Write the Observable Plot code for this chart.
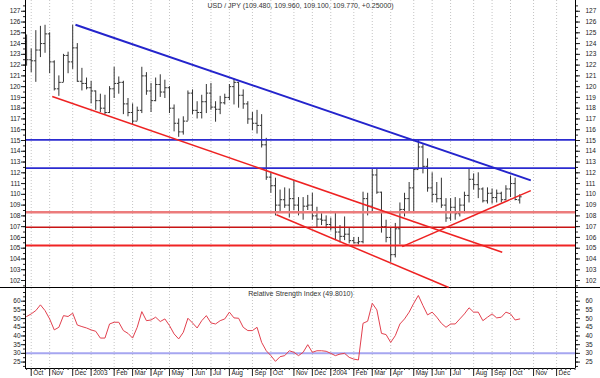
<!DOCTYPE html>
<html><head><meta charset="utf-8">
<script src="https://cdn.jsdelivr.net/npm/d3@7"></script>
<script src="https://cdn.jsdelivr.net/npm/@observablehq/plot@0.6"></script>
<style>
html,body{margin:0;padding:0;background:#fff;}
#chart{width:600px;height:378px;overflow:hidden;background:#fff;font-family:"Liberation Sans",Arial,sans-serif;}
#chart svg{display:block;}
#rsi{border-top:1px solid #000;}
</style></head>
<body><div id="chart"><div id="price"></div><div id="rsi"></div></div>
<script>
// ---------- DATA (weekly USD/JPY bars, index 0 = week of 27 Sep 2002) ----------
const open = [
124.2,122.5,122.4,123.4,124.0,124.9,122.3,119.8,120.4,122.9,
122.3,123.6,120.5,120.3,119.9,119.6,118.7,118.0,117.6,119.8,
120.3,120.4,118.4,117.6,116.8,117.8,121.0,119.6,118.7,120.2,
119.5,119.9,118.0,116.6,115.8,116.8,119.4,117.8,117.6,118.6,
119.4,118.1,117.9,118.5,119.0,120.0,120.4,119.2,118.4,117.0,
116.6,116.4,114.6,111.6,110.8,109.0,109.5,109.0,109.6,109.0,
108.3,108.9,109.0,108.0,107.7,107.6,107.2,106.9,106.5,106.1,
106.3,105.7,105.5,105.6,109.6,108.9,111.8,110.2,107.0,106.0,
104.4,106.8,108.6,109.6,110.6,112.3,114.4,112.6,110.6,110.0,
109.6,109.0,107.8,108.8,108.2,109.0,109.9,111.4,110.9,110.5,
109.4,110.1,109.7,110.1,109.5,110.5,111.0,109.48];
const high = [
124.8,123.5,125.2,125.6,125.7,125.0,122.4,121.0,123.0,123.2,
125.7,124.0,121.7,120.8,120.5,119.6,119.3,119.2,120.0,121.8,
120.9,120.5,118.9,118.4,118.1,121.8,121.3,120.3,120.8,121.1,
120.6,120.0,118.3,117.0,117.2,119.6,119.7,118.6,119.2,120.2,
120.3,118.6,119.1,119.3,120.2,120.7,120.4,119.7,118.6,117.6,
117.8,117.4,115.2,112.0,111.5,110.4,110.6,110.5,111.3,109.7,
109.7,109.9,110.1,108.8,108.2,108.0,107.8,108.3,107.1,107.9,
106.9,106.0,106.0,110.2,110.1,112.4,112.4,110.2,107.6,106.9,
107.3,109.2,110.1,111.1,112.4,115.0,114.6,113.3,112.0,111.1,
111.5,109.6,109.6,109.7,109.6,110.2,112.4,111.9,112.0,110.6,
110.6,110.5,110.4,110.2,110.8,111.7,111.5,109.96];
const low = [
121.9,121.3,120.4,122.7,123.1,121.2,119.6,119.1,120.4,121.2,
121.6,120.4,119.6,119.7,118.4,117.8,117.6,117.4,117.5,118.9,
119.3,117.4,117.2,116.4,116.8,117.5,119.2,117.6,118.6,119.0,
118.9,117.5,115.8,115.3,115.5,116.8,117.4,117.0,117.0,117.5,
117.8,116.7,117.4,118.3,118.7,118.3,118.0,117.9,116.5,115.9,
115.6,114.3,111.3,110.1,108.0,108.3,108.7,107.8,108.5,108.0,
107.6,108.5,107.6,106.9,107.1,106.8,106.6,105.7,105.5,105.7,
105.4,105.4,105.3,105.4,108.0,108.2,110.0,106.4,105.5,103.7,
104.1,105.3,107.9,108.3,108.3,112.3,111.9,110.2,109.2,109.2,
108.7,107.4,107.5,107.6,107.9,108.2,109.2,110.4,109.6,109.2,
109.1,109.1,109.2,109.2,109.4,109.7,109.4,109.10];
const close = [
122.5,122.4,123.4,124.0,124.9,122.3,119.8,120.4,122.9,122.3,
123.6,120.5,120.3,119.9,119.6,118.7,118.0,117.6,119.8,120.3,
120.4,118.4,117.6,116.8,117.8,121.0,119.6,118.7,120.2,119.5,
119.9,118.0,116.6,115.8,116.8,119.4,117.8,117.6,118.6,119.4,
118.1,117.9,118.5,119.0,120.0,120.4,119.2,118.4,117.0,116.6,
116.4,114.6,111.6,110.8,109.0,109.5,109.0,109.6,109.0,108.3,
108.9,109.0,108.0,107.7,107.6,107.2,106.9,106.5,106.1,106.3,
105.7,105.5,105.6,109.6,108.9,111.8,110.2,107.0,106.0,104.4,
106.8,108.6,109.6,110.6,112.3,114.4,112.6,110.6,110.0,109.6,
109.0,107.8,108.8,108.2,109.0,109.9,111.4,110.9,110.5,109.4,
110.1,109.7,110.1,109.5,110.5,111.0,109.52,109.77];
const rsi = [
51.2,52.7,54.6,57.9,54.6,49.8,43.5,45.0,51.7,51.2,
53.1,46.3,45.4,44.6,43.5,42.7,38.8,38.8,46.9,47.9,
47.9,43.1,41.5,38.8,45.0,54.0,48.8,49.2,50.8,48.3,
49.8,46.0,41.2,38.3,42.1,50.2,47.5,44.6,48.8,51.7,
47.5,46.9,48.8,49.8,53.7,50.4,50.2,45.0,43.1,43.1,
45.0,36.3,31.5,28.7,25.4,28.1,28.7,31.5,30.6,28.7,
30.6,35.0,30.6,31.5,31.5,31.2,30.0,28.7,29.6,30.0,
27.7,26.7,26.2,47.3,48.5,58.8,55.0,41.5,40.8,36.3,
40.2,46.9,49.8,53.7,58.8,63.3,57.5,52.1,53.7,50.8,
47.3,45.0,46.9,46.9,49.8,52.7,56.2,53.7,53.7,48.8,
50.8,52.7,50.4,50.8,53.7,52.7,49.2,49.801];
// first weekly bar of each month and its label
const monthBars   = [1,5,10,14,19,23,27,31,36,40,44,49,53,58,62,66,71,75,79,84,88,92,97,101,105,110,115];
const monthLabels = ["Oct","Nov","Dec","2003","Feb","Mar","Apr","May","Jun","Jul","Aug","Sep","Oct","Nov","Dec","2004","Feb","Mar","Apr","May","Jun","Jul","Aug","Sep","Oct","Nov","Dec"];
// horizontal support / resistance levels
const levels = [115.05, 112.43, 108.34, 106.95, 105.25];
// trend lines: [bar index, price] start and end
const trendStart = [[10.6,125.75],[5.56,119.08],[54.2,108.1],[81.5,105.15]];
const trendEnd   = [[109.4,111.3],[103.2,104.63],[91.6,101.35],[109.4,110.35]];
const priceTicks = d3.range(102, 128);
const rsiTicks = [25,30,35,40,45,50,55,60];
const rsiLevel = 30;

// ---------- STYLE ----------
const FONT = '"Liberation Sans", Arial, sans-serif';
const BAR = "#333";
const GRID = "#c4c4c4";
const LEVEL_STYLE = [
  {stroke:"#2b2bd0", w:1.8},{stroke:"#2b2bd0", w:1.8},
  {stroke:"#ec7c7c", w:2.6},{stroke:"#c81414", w:1.5},{stroke:"#f02424", w:2}];
const TREND_STYLE = [
  {stroke:"#2424cc", w:2},{stroke:"#ee2222", w:1.5},{stroke:"#ee2222", w:1.5},{stroke:"#ee2222", w:1.5}];
const X_DOMAIN = [-0.24, 119.1];

const n = close.length;
const bars = d3.range(n).map(i => ({i, o: open[i], h: high[i], l: low[i], c: close[i]}));
const rsiRows = rsi.map((v, i) => ({i, v}));
const trends = trendStart.map((s, k) => ({x1: s[0], y1: s[1], x2: trendEnd[k][0], y2: trendEnd[k][1], k}));
const labelOf = new Map(monthBars.map((b, k) => [b, monthLabels[k]]));
const last = bars[n - 1];
const title = `USD / JPY (${last.o.toFixed(3)}, ${last.h.toFixed(3)}, ${last.l.toFixed(3)}, ${last.c.toFixed(3)}, ${(last.c - close[n-2] >= 0 ? "+" : "")}${(last.c - close[n-2]).toFixed(5)})`;
const rsiTitle = `Relative Strength Index (${rsi[n-1].toFixed(4)})`;

const commonStyle = {fontFamily: FONT, fontSize: "6.5px", color: "#222", background: "#fff", overflow: "visible"};

const pricePlot = Plot.plot({
  width: 600, height: 287,
  marginLeft: 25, marginRight: 25, marginTop: 0, marginBottom: 0,
  style: commonStyle,
  x: {domain: X_DOMAIN, axis: null, label: null},
  y: {domain: [101.35, 128.0], axis: null, label: null},
  marks: [
    Plot.ruleX(monthBars, {stroke: GRID, strokeDasharray: "1,2"}),
    Plot.ruleX(bars, {x: "i", y1: "l", y2: "h", stroke: BAR, strokeWidth: 1}),
    Plot.link(bars, {x1: d => d.i - 0.42, x2: "i", y1: "o", y2: "o", stroke: BAR}),
    Plot.link(bars, {x1: "i", x2: d => d.i + 0.42, y1: "c", y2: "c", stroke: BAR}),
    ...levels.map((v, k) => Plot.ruleY([v], {stroke: LEVEL_STYLE[k].stroke, strokeWidth: LEVEL_STYLE[k].w})),
    ...trends.map(t => Plot.link([t], {x1: "x1", y1: "y1", x2: "x2", y2: "y2", stroke: TREND_STYLE[t.k].stroke, strokeWidth: TREND_STYLE[t.k].w})),
    Plot.ruleX(X_DOMAIN, {stroke: "#000"}),
    Plot.axisY({anchor: "left", ticks: d3.range(101.5, 128, 0.5), tickSize: 2, tickFormat: () => ""}),
    Plot.axisY({anchor: "right", ticks: d3.range(101.5, 128, 0.5), tickSize: 2, tickFormat: () => ""}),
    Plot.axisY({anchor: "left", ticks: priceTicks, tickSize: 4, tickPadding: 1, fontSize: 6.5, tickFormat: d => String(d)}),
    Plot.axisY({anchor: "right", ticks: priceTicks, tickSize: 4, tickPadding: 6, fontSize: 6.5, tickFormat: d => String(d)}),
    Plot.text([title], {frameAnchor: "top", dy: 3, lineAnchor: "top", fontSize: 7, fill: "#333"})
  ]
});

const rsiPlot = Plot.plot({
  width: 600, height: 90,
  marginLeft: 25, marginRight: 25, marginTop: 0, marginBottom: 10,
  style: commonStyle,
  x: {domain: X_DOMAIN, axis: null, label: null},
  y: {domain: [21.3, 67.3], axis: null, label: null},
  marks: [
    Plot.ruleX(monthBars, {stroke: GRID, strokeDasharray: "1,2"}),
    Plot.ruleY([rsiLevel], {stroke: "#a6a6f0", strokeWidth: 2}),
    Plot.line(rsiRows, {x: "i", y: "v", stroke: "#e2404e", strokeWidth: 1}),
    Plot.ruleX(X_DOMAIN, {stroke: "#000"}),
    Plot.ruleY([21.3], {stroke: "#000"}),
    Plot.axisY({anchor: "left", ticks: d3.range(22.5, 67, 2.5), tickSize: 2, tickFormat: () => ""}),
    Plot.axisY({anchor: "right", ticks: d3.range(22.5, 67, 2.5), tickSize: 2, tickFormat: () => ""}),
    Plot.axisY({anchor: "left", ticks: rsiTicks, tickSize: 4, tickPadding: 1, fontSize: 6.5, tickFormat: d => String(d)}),
    Plot.axisY({anchor: "right", ticks: rsiTicks, tickSize: 4, tickPadding: 6, fontSize: 6.5, tickFormat: d => String(d)}),
    Plot.axisX({anchor: "bottom", ticks: d3.range(0, 120), tickSize: 2, tickFormat: () => ""}),
    Plot.axisX({anchor: "bottom", ticks: monthBars, tickSize: 8, tickFormat: () => ""}),
    Plot.axisX({anchor: "bottom", ticks: monthBars, tickSize: 0, tickPadding: 2, textAnchor: "start", dx: 2, fontSize: 6.5, tickFormat: d => labelOf.get(d)}),
    Plot.text([rsiTitle], {frameAnchor: "top", dy: 3, lineAnchor: "top", fontSize: 7, fill: "#333"})
  ]
});

document.getElementById("price").appendChild(pricePlot);
document.getElementById("rsi").appendChild(rsiPlot);
</script></body></html>
